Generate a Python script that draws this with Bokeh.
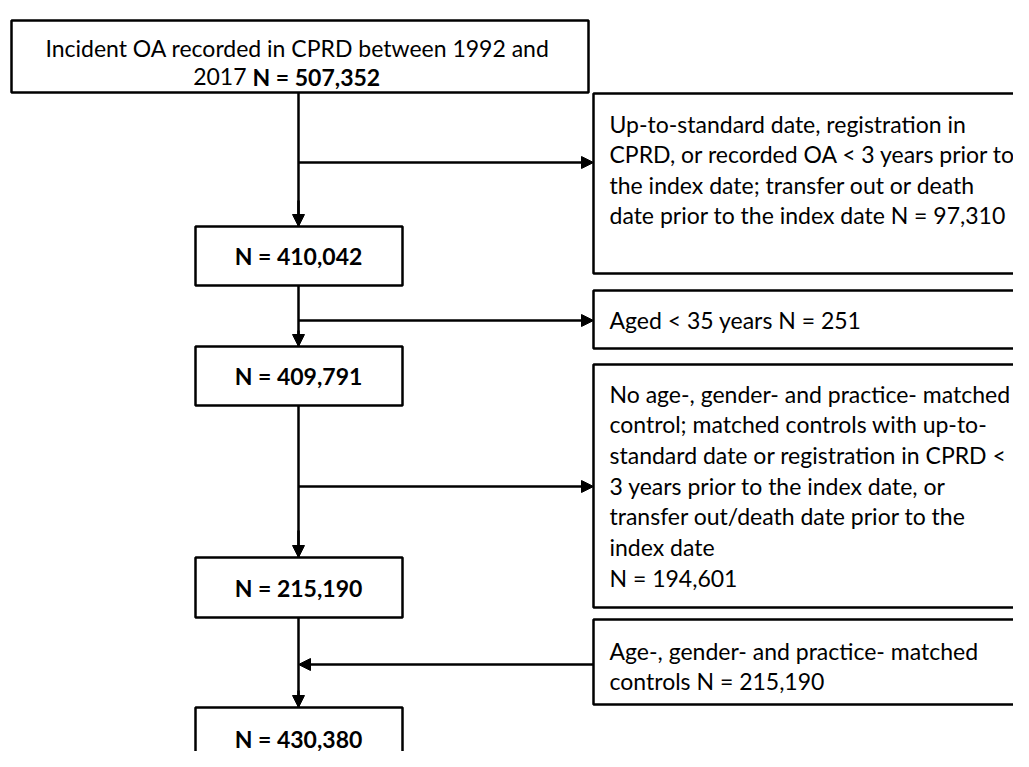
from bokeh.plotting import figure
from bokeh.models import Range1d, Arrow, NormalHead
from bokeh.core.properties import value
from bokeh.embed import file_html
from bokeh.resources import INLINE

# ---------------- data ----------------
top_line1 = "Incident OA recorded in CPRD between 1992 and"
top_line2_regular = "2017"
top_line2_bold = "N = 507,352"
main_counts = ["N = 410,042", "N = 409,791", "N = 215,190", "N = 430,380"]
excl_1 = ["Up-to-standard date, registration in",
          "CPRD, or recorded OA < 3 years prior to",
          "the index date; transfer out or death",
          "date prior to the index date N = 97,310"]
excl_2 = ["Aged < 35 years N = 251"]
excl_3 = ["No age-, gender- and practice- matched",
          "control; matched controls with up-to-",
          "standard date or registration in CPRD <",
          "3 years prior to the index date, or",
          "transfer out/death date prior to the",
          "index date",
          "N = 194,601"]
added = ["Age-, gender- and practice- matched",
         "controls N = 215,190"]

FONT = value("Lato")
FS = "23px"
LW = 2.5

p = figure(width=1013, height=751, output_backend="svg", toolbar_location=None,
           x_range=Range1d(0, 1013), y_range=Range1d(751, 0), min_border=0)
p.axis.visible = False
p.grid.visible = False
p.outline_line_color = None
p.background_fill_color = "white"
p.border_fill_color = "white"

def box(l, r, t, b):
    p.quad(left=[l], right=[r], top=[t], bottom=[b], fill_color="white",
           line_color="black", line_width=LW)

def line(x0, y0, x1, y1):
    p.line([x0, x1], [y0, y1], line_color="black", line_width=LW)

def arrow(x0, y0, x1, y1):
    p.add_layout(Arrow(end=NormalHead(size=12, fill_color="black", line_color="black", line_width=1),
                       x_start=x0, y_start=y0, x_end=x1, y_end=y1,
                       line_color="black", line_width=LW))

def txt(x, y, s, align="left", bold=False):
    p.text(x=[x], y=[y], text=[s], text_font=FONT, text_font_size=FS,
           text_align=align, text_baseline="middle", text_color="black",
           text_font_style="bold" if bold else "normal")

CX = 298
ML, MR = 195, 402
RL, RR = 593, 1040

# main column boxes (y top, y bottom)
main_boxes = [(226, 285), (346, 405), (557, 617), (707, 790)]

# connectors
line(CX, 92, CX, 226)
arrow(CX, 200, CX, main_boxes[0][0])
arrow(CX, 162, RL, 162)
line(CX, main_boxes[0][1], CX, main_boxes[1][0])
arrow(CX, 330, CX, main_boxes[1][0])
arrow(CX, 320, RL, 320)
line(CX, main_boxes[1][1], CX, main_boxes[2][0])
arrow(CX, 530, CX, main_boxes[2][0])
arrow(CX, 486, RL, 486)
line(CX, main_boxes[2][1], CX, main_boxes[3][0])
arrow(CX, 690, CX, main_boxes[3][0])
arrow(RL, 664, CX, 664)

# top box
box(11, 588, 20, 92)
txt(297, 47, top_line1, align="center")
txt(246, 76, top_line2_regular, align="right")
txt(252, 76, top_line2_bold, align="left", bold=True)

# main boxes
for (t, b), s in zip(main_boxes, main_counts):
    box(ML, MR, t, b)
    yc = (t + b) / 2 if b < 760 else t + 31
    txt(CX, yc, s, align="center", bold=True)

# exclusion boxes
right_boxes = [((93, 273), excl_1, 123, 30.5),
               ((290, 348), excl_2, 319, 30),
               ((364, 607), excl_3, 393, 30.7),
               ((619, 704), added, 650, 30)]
for (t, b), lines, y0, dy in right_boxes:
    box(RL, RR, t, b)
    for i, s in enumerate(lines):
        txt(609, y0 + i * dy, s)

open("out.html", "w").write(file_html(p, INLINE))
